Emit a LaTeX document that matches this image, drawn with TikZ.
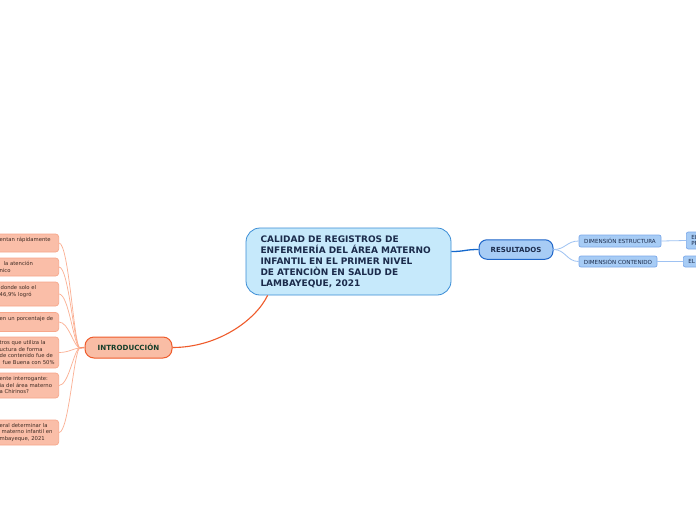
\documentclass[tikz,border=0pt]{standalone}
\usepackage{fontspec}
\setmainfont{DejaVu Sans}
\definecolor{mainfill}{HTML}{C6E9FB}
\definecolor{mainborder}{HTML}{3B8DD6}
\definecolor{navy}{HTML}{1B2B4B}
\definecolor{resfill}{HTML}{A7CCF5}
\definecolor{resborder}{HTML}{1F66C9}
\definecolor{dimborder}{HTML}{7CA9EA}
\definecolor{bluelinkc}{HTML}{1468CC}
\definecolor{lightlinkc}{HTML}{9EC2F2}
\definecolor{introfill}{HTML}{F9BDA5}
\definecolor{introborder}{HTML}{EF5B2B}
\definecolor{introtext}{HTML}{163F2B}
\definecolor{leaffill}{HTML}{FABEA8}
\definecolor{leafborder}{HTML}{F7A78B}
\definecolor{leaflinkc}{HTML}{FBAF92}
\definecolor{leaftext}{HTML}{3D2A22}
\usetikzlibrary{calc}
\tikzset{
  mainbox/.style={draw=mainborder, fill=mainfill, line width=0.8pt, rounded corners=14pt,
    text width=176pt, inner xsep=14.5pt, minimum height=67pt, align=left,
    font=\bfseries\fontsize{9}{11}\selectfont, text=navy},
  introbox/.style={draw=introborder, fill=introfill, line width=1pt, rounded corners=9pt,
    minimum width=87pt, minimum height=21pt, inner sep=0pt,
    font=\bfseries\fontsize{7.1}{8}\selectfont, text=introtext},
  resbox/.style={draw=resborder, fill=resfill, line width=1pt, rounded corners=8pt,
    minimum width=74pt, minimum height=19.5pt, inner sep=0pt,
    font=\bfseries\fontsize{7}{8}\selectfont, text=navy},
  dimbox/.style={draw=dimborder, fill=resfill, line width=0.7pt, rounded corners=2pt,
    inner sep=0pt, font=\fontsize{5.6}{6.5}\selectfont, text=navy},
  edgebox/.style={draw=dimborder, fill=resfill, line width=0.7pt, rounded corners=2pt,
    anchor=west, minimum width=40pt, text width=30pt, align=left,
    font=\fontsize{5.6}{6.5}\selectfont, text=navy},
  leaf/.style={draw=leafborder, fill=leaffill, line width=0.7pt, rounded corners=3pt,
    anchor=east, text width=55pt, inner xsep=4pt, inner ysep=0pt, align=left,
    font=\fontsize{5.3}{6.5}\selectfont, text=leaftext},
  leaflink/.style={draw=leaflinkc, line width=0.7pt},
  orangelink/.style={draw=introborder, line width=1.1pt},
  bluelink/.style={draw=bluelinkc, line width=1.3pt},
  lightlink/.style={draw=lightlinkc, line width=0.8pt}
}
\begin{document}
\begin{tikzpicture}[x=1pt,y=-1pt]
\useasboundingbox (0,0) rectangle (696,520);
\clip (0,0) rectangle (696,520);
\fill[white] (0,0) rectangle (696,520);

% main node
\node[mainbox] (main) at (348.5,261.5) {CALIDAD DE REGISTROS DE\\ENFERMERÍA DEL ÁREA MATERNO\\INFANTIL EN EL PRIMER NIVEL\\DE ATENCIÒN EN SALUD DE\\LAMBAYEQUE, 2021};

% introduction branch
\node[introbox] (intro) at (128.5,347.5) {INTRODUCCIÓN};
\coordinate (hub) at (80,348);

\node[leaf, minimum height=18pt] (l1) at (59,243) {entan rápidamente\\\mbox{}};
\node[leaf, minimum height=18pt] (l2) at (59,267) {\hspace*{4pt}la atención\\nico};
\node[leaf, minimum height=24pt] (l3) at (59,294) {\hspace*{1pt}donde solo el\\46,9\% logró\\\mbox{}};
\node[leaf, minimum height=19pt] (l4) at (59,322) {en un porcentaje de\\\mbox{}};
\node[leaf, minimum height=31pt] (l5) at (59,352.5) {tros que utiliza la\\uctura de forma\\de contenido fue de\\\hspace*{3pt}fue Buena con 50\%};
\node[leaf, minimum height=25pt] (l6) at (59,385.5) {ente interrogante:\\ia del área materno\\a Chirinos?};
\node[leaf, minimum height=25pt] (l7) at (59,432.5) {eral determinar la\\\hspace*{2pt}materno infantil en\\mbayeque, 2021};

\foreach \l in {l1,l2,l3,l4,l5,l6,l7}{
  \draw[leaflink] (\l.east) .. controls +(10,0) and +(-6,0) .. (hub);
}
\draw[draw=leaflinkc!60!introborder, line width=1.4pt] (hub) -- (intro.west);

\draw[orangelink] (intro.east) .. controls +(45,0) and +(-12,25) .. ([xshift=22pt]main.south west);

% results branch
\node[resbox] (res) at (516,249.5) {RESULTADOS};
\draw[bluelink] ($(main.east)+(0,-10)$) .. controls +(14,0) and +(-14,0) .. (res.west);

\node[dimbox, minimum width=82pt, minimum height=12pt] (dimE) at (620,241) {DIMENSIÓN ESTRUCTURA};
\node[dimbox, minimum width=78pt, minimum height=11pt] (dimC) at (618,261.5) {DIMENSIÓN CONTENIDO};
\draw[lightlink] (res.east) .. controls +(12,0) and +(-12,0) .. (dimE.west);
\draw[lightlink] (res.east) .. controls +(12,0) and +(-12,0) .. (dimC.west);

\node[edgebox, minimum height=17pt, inner xsep=5pt, inner ysep=0pt] (e1) at (686,240.5) {EL\\PR};
\node[edgebox, minimum height=11pt, inner xsep=4pt, inner ysep=0pt] (e2) at (683,261.5) {EL};
\draw[lightlink] (dimE.east) -- (e1.west);
\draw[lightlink] (dimC.east) -- (e2.west);
\end{tikzpicture}
\end{document}
